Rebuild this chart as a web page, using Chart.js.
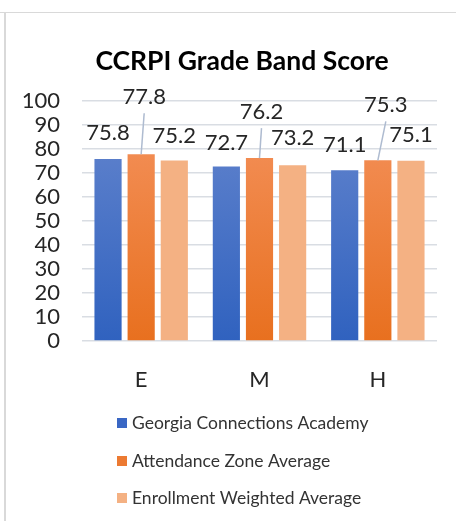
<!DOCTYPE html>
<html>
<head>
<meta charset="utf-8">
<script src="https://cdn.jsdelivr.net/npm/chart.js@4.4.1/dist/chart.umd.min.js"></script>
<style>
  html, body { margin: 0; padding: 0; background: #fff; }
  #wrap { position: relative; width: 456px; height: 521px; overflow: hidden; }
  #frameTop { position: absolute; left: 0; top: 12px; width: 456px; height: 0; border-top: 1px solid #d9d9d9; }
  #frameLeft { position: absolute; left: 4px; top: 12px; width: 0; height: 509px; border-left: 2px solid #d9d9d9; }
  canvas { position: absolute; left: 0; top: 0; }
</style>
</head>
<body>
<div id="wrap">
  <div id="frameTop"></div>
  <div id="frameLeft"></div>
  <canvas id="c" width="456" height="521"></canvas>
</div>
<script>
const chartTitle = 'CCRPI Grade Band Score';
const categories = ['E', 'M', 'H'];
const seriesNames = ['Georgia Connections Academy', 'Attendance Zone Average', 'Enrollment Weighted Average'];
const academy = [75.8, 72.7, 71.1];
const attendanceZone = [77.8, 76.2, 75.3];
const enrollmentWeighted = [75.2, 73.2, 75.1];
const yTicks = [0, 10, 20, 30, 40, 50, 60, 70, 80, 90, 100];

const FONT = 'Lato, "Open Sans", sans-serif';

function grad(topColor, bottomColor) {
  return (ctx) => {
    const chart = ctx.chart;
    const ca = chart.chartArea;
    if (!ca) return bottomColor;
    const y0 = chart.scales.y.getPixelForValue(80);
    const g = chart.ctx.createLinearGradient(0, y0, 0, ca.bottom);
    g.addColorStop(0, topColor);
    g.addColorStop(1, bottomColor);
    return g;
  };
}

const titlePlugin = {
  id: 'titlePlugin',
  afterDraw(chart) {
    const ctx = chart.ctx;
    ctx.save();
    ctx.font = 'bold 26.5px ' + FONT;
    ctx.fillStyle = '#000000';
    ctx.textAlign = 'center';
    ctx.textBaseline = 'middle';
    ctx.fillText(chartTitle, 242, 61);
    ctx.restore();
  }
};

const valueLabels = {
  id: 'valueLabels',
  afterDatasetsDraw(chart) {
    const ctx = chart.ctx;
    ctx.save();
    ctx.font = '22px ' + FONT;
    ctx.fillStyle = '#262626';
    ctx.textAlign = 'center';
    ctx.textBaseline = 'middle';
    chart.data.datasets.forEach((ds, di) => {
      const meta = chart.getDatasetMeta(di);
      meta.data.forEach((el, i) => {
        const off = ds.labelOffsets[i];
        const lx = el.x + off[0];
        const ly = el.y + off[1];
        if (ds.leader) {
          ctx.strokeStyle = '#aebbd0';
          ctx.lineWidth = 1.5;
          ctx.beginPath();
          ctx.moveTo(lx, ly + 16);
          ctx.lineTo(el.x, el.y);
          ctx.stroke();
        }
        ctx.fillText(ds.data[i].toFixed(1), lx, ly);
      });
    });
    ctx.restore();
  }
};

const customLegend = {
  id: 'customLegend',
  afterDraw(chart) {
    const ctx = chart.ctx;
    ctx.save();
    ctx.font = '17.5px ' + FONT;
    ctx.textBaseline = 'middle';
    ctx.textAlign = 'left';
    const left = 117;
    const ys = [423, 461, 498];
    chart.data.datasets.forEach((ds, i) => {
      const y = ys[i];
      ctx.fillStyle = ds.legendColor;
      ctx.fillRect(left, y - 5, 10, 10);
      ctx.fillStyle = '#333333';
      ctx.fillText(ds.label, left + 15, y);
    });
    ctx.restore();
  }
};

new Chart(document.getElementById('c'), {
  type: 'bar',
  data: {
    labels: categories,
    datasets: [
      { label: seriesNames[0], data: academy, backgroundColor: grad('#5b7fcb', '#3062bf'), legendColor: '#3a67c4',
        labelOffsets: [[0, -26], [0, -24], [0, -25]] },
      { label: seriesNames[1], data: attendanceZone, backgroundColor: grad('#f28c52', '#e8701f'), legendColor: '#ec7a32', leader: true,
        labelOffsets: [[3, -57], [2, -46], [8, -55]] },
      { label: seriesNames[2], data: enrollmentWeighted, backgroundColor: '#f4b183', legendColor: '#f4b183',
        labelOffsets: [[0, -25], [0, -27], [0, -26]] }
    ]
  },
  options: {
    responsive: false,
    animation: false,
    layout: { padding: { left: 10, right: 19, top: 101, bottom: 130 } },
    datasets: { bar: { categoryPercentage: 0.84, barPercentage: 0.82 } },
    plugins: {
      legend: { display: false },
      tooltip: { enabled: false },
      title: { display: false }
    },
    scales: {
      x: {
        grid: { display: false },
        border: { display: false },
        ticks: { color: '#262626', font: { family: FONT, size: 22 }, padding: 18 },
        afterFit(s) { s.height = 50; }
      },
      y: {
        min: 0,
        max: 100,
        afterBuildTicks(s) { s.ticks = yTicks.map(v => ({ value: v })); },
        grid: { color: '#d9dde3', lineWidth: 1.5, drawTicks: false },
        border: { display: false },
        ticks: { color: '#262626', font: { family: FONT, size: 22 }, padding: 22, autoSkip: false },
        afterFit(s) { s.width = 72; }
      }
    }
  },
  plugins: [titlePlugin, valueLabels, customLegend]
});
</script>
</body>
</html>
